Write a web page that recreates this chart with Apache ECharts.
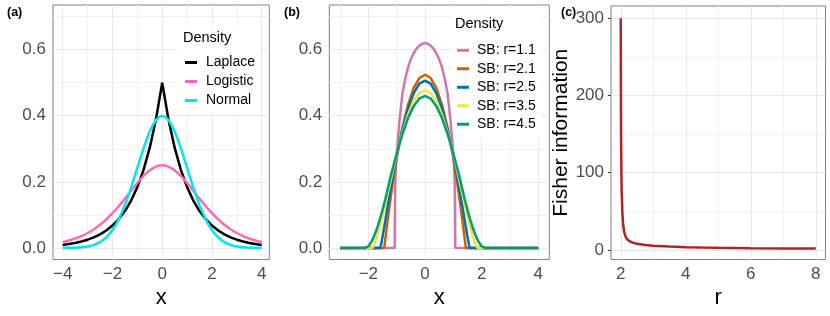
<!DOCTYPE html>
<html><head><meta charset="utf-8">
<script src="https://cdn.jsdelivr.net/npm/echarts@6/dist/echarts.min.js"></script>
<style>html,body{margin:0;padding:0;background:#fff}#c{width:830px;height:316px}</style>
</head><body><div id="c"></div>
<script>
// ---------- Panel (a) data ----------
const A_X = [-4,-3.75,-3.5,-3.25,-3,-2.75,-2.5,-2.25,-2,-1.75,-1.5,-1.25,-1,-0.75,-0.5,-0.25,0,0.25,0.5,0.75,1,1.25,1.5,1.75,2,2.25,2.5,2.75,3,3.25,3.5,3.75,4];
const LAPLACE = [0.0092,0.0118,0.0151,0.0194,0.0249,0.0320,0.0410,0.0527,0.0677,0.0869,0.1116,0.1433,0.1839,0.2362,0.3033,0.3894,0.5,0.3894,0.3033,0.2362,0.1839,0.1433,0.1116,0.0869,0.0677,0.0527,0.0410,0.0320,0.0249,0.0194,0.0151,0.0118,0.0092];
const LOGISTIC = [0.0177,0.0224,0.0285,0.0360,0.0452,0.0565,0.0701,0.0863,0.1050,0.1261,0.1491,0.1731,0.1966,0.2179,0.2350,0.2461,0.25,0.2461,0.2350,0.2179,0.1966,0.1731,0.1491,0.1261,0.1050,0.0863,0.0701,0.0565,0.0452,0.0360,0.0285,0.0224,0.0177];
const NORMAL = [0.0001,0.0004,0.0009,0.0020,0.0044,0.0091,0.0175,0.0317,0.0540,0.0863,0.1295,0.1826,0.2420,0.3011,0.3521,0.3867,0.3989,0.3867,0.3521,0.3011,0.2420,0.1826,0.1295,0.0863,0.0540,0.0317,0.0175,0.0091,0.0044,0.0020,0.0009,0.0004,0.0001];

// ---------- Panel (b) data ----------
const SB11_X = [-3,-1.07,-1.06,-1.05,-1.03,-1.0,-0.95,-0.9,-0.8,-0.7,-0.6,-0.5,-0.4,-0.3,-0.2,-0.1,0,0.1,0.2,0.3,0.4,0.5,0.6,0.7,0.8,0.9,0.95,1.0,1.03,1.05,1.06,1.07,4];
const SB11_Y = [0,0,0.14,0.20,0.245,0.285,0.335,0.385,0.465,0.512,0.546,0.571,0.589,0.603,0.612,0.618,0.62,0.618,0.612,0.603,0.589,0.571,0.546,0.512,0.465,0.385,0.335,0.285,0.245,0.20,0.14,0,0];
const SB21_X = [-3,-1.44,-1.4,-1.3,-1.2,-1.1,-1.0,-0.9,-0.8,-0.6,-0.4,-0.2,0,0.2,0.4,0.6,0.8,0.9,1.0,1.1,1.2,1.3,1.4,1.44,4];
const SB21_Y = [0,0,0.029,0.097,0.160,0.218,0.271,0.319,0.362,0.433,0.484,0.514,0.524,0.514,0.484,0.433,0.362,0.319,0.271,0.218,0.160,0.097,0.029,0,0];
const SB25_X = [-3,-1.58,-1.55,-1.5,-1.4,-1.3,-1.2,-1.1,-1.0,-0.9,-0.8,-0.6,-0.4,-0.2,0,0.2,0.4,0.6,0.8,0.9,1.0,1.1,1.2,1.3,1.4,1.5,1.55,1.58,4];
const SB25_Y = [0,0,0.011,0.034,0.084,0.136,0.186,0.234,0.279,0.320,0.358,0.422,0.468,0.497,0.506,0.497,0.468,0.422,0.358,0.320,0.279,0.234,0.186,0.136,0.084,0.034,0.011,0,0];
const SB35_X = [-3,-1.87,-1.8,-1.7,-1.6,-1.5,-1.4,-1.3,-1.2,-1.1,-1.0,-0.9,-0.8,-0.6,-0.4,-0.2,0,0.2,0.4,0.6,0.8,0.9,1.0,1.1,1.2,1.3,1.4,1.5,1.6,1.7,1.8,1.87,4];
const SB35_Y = [0,0,0.008,0.031,0.062,0.096,0.133,0.171,0.209,0.247,0.283,0.317,0.348,0.403,0.444,0.469,0.477,0.469,0.444,0.403,0.348,0.317,0.283,0.247,0.209,0.171,0.133,0.096,0.062,0.031,0.008,0,0];
const SB45_X = [-3,-2.12,-2.06,-2.0,-1.9,-1.8,-1.7,-1.6,-1.5,-1.4,-1.3,-1.2,-1.1,-1.0,-0.9,-0.8,-0.6,-0.4,-0.2,0,0.2,0.4,0.6,0.8,0.9,1.0,1.1,1.2,1.3,1.4,1.5,1.6,1.7,1.8,1.9,2.0,2.06,2.12,4];
const SB45_Y = [0,0,0.0015,0.005,0.017,0.035,0.058,0.085,0.115,0.148,0.185,0.221,0.254,0.285,0.315,0.344,0.393,0.429,0.452,0.46,0.452,0.429,0.393,0.344,0.315,0.285,0.254,0.221,0.185,0.148,0.115,0.085,0.058,0.035,0.017,0.005,0.0015,0,0];

// ---------- Panel (c) data ----------
const FI_R = [2.0,2.005,2.01,2.02,2.03,2.05,2.07,2.1,2.15,2.2,2.3,2.4,2.5,2.75,3.0,3.5,4.0,4.5,5.0,6.0,7.0,8.0];
const FI_VAL = [300,205,145,98,74,48,35,24,17,13.5,10.5,9.0,7.8,6.2,5.2,4.2,3.5,3.0,2.6,2.2,1.9,1.7];

// ---------- tick labels ----------
const A_XTICKS = [-4,-2,0,2,4];
const A_XMINOR = [-3,-1,1,3];
const B_XTICKS = [-2,0,2,4];
const B_XMINOR = [-3,-1,1,3];
const AB_YTICKS = [0,0.2,0.4,0.6];
const AB_YMINOR = [0.1,0.3,0.5,0.7];
const C_XTICKS = [2,4,6,8];
const C_XMINOR = [3,5,7];
const C_YTICKS = [0,100,200,300];
const C_YMINOR = [50,150,250];

const SANS = '"Liberation Sans", Arial, sans-serif';
const pair = (xs, ys) => xs.map((x, i) => [x, ys[i]]);
const minus = s => String(s).replace('-', '\u2212');

function xAxis(gi, min, max, ticks, name) {
  return {
    type: 'value', gridIndex: gi, min: min, max: max,
    name: name, nameLocation: 'middle', nameGap: 25,
    nameTextStyle: { fontFamily: SANS, fontSize: 22, color: '#000' },
    axisLine: { show: false }, splitLine: { show: false },
    axisTick: { show: true, length: 3, customValues: ticks, lineStyle: { color: '#333', width: 1 } },
    axisLabel: { customValues: ticks, fontFamily: SANS, fontSize: 17, color: '#4d4d4d', margin: 6,
      formatter: v => minus(v) }
  };
}
function yAxis(gi, min, max, ticks, fmt, name) {
  return {
    type: 'value', gridIndex: gi, min: min, max: max,
    name: name || '', nameLocation: 'middle', nameGap: 37,
    nameTextStyle: { fontFamily: SANS, fontSize: 21, color: '#000' },
    axisLine: { show: false }, splitLine: { show: false },
    axisTick: { show: true, length: 3, customValues: ticks, lineStyle: { color: '#333', width: 1 } },
    axisLabel: { customValues: ticks, fontFamily: SANS, fontSize: 17, color: '#4d4d4d', margin: 7,
      formatter: fmt }
  };
}
function gridLines(gi, xMaj, xMin, yMaj, yMin) {
  const maj = { color: '#e8e8e8', width: 1, type: 'solid' };
  const mnr = { color: '#f2f2f2', width: 1, type: 'solid' };
  const d = [];
  xMin.forEach(v => d.push({ xAxis: v, lineStyle: mnr }));
  yMin.forEach(v => d.push({ yAxis: v, lineStyle: mnr }));
  xMaj.forEach(v => d.push({ xAxis: v, lineStyle: maj }));
  yMaj.forEach(v => d.push({ yAxis: v, lineStyle: maj }));
  return { type: 'line', xAxisIndex: gi, yAxisIndex: gi, data: [], z: 1, silent: true,
    markLine: { z: 1, silent: true, symbol: ['none', 'none'], label: { show: false }, animation: false, data: d } };
}
function curve(gi, name, data, color, smooth) {
  return { type: 'line', name: name, xAxisIndex: gi, yAxisIndex: gi, data: data, z: 3,
    showSymbol: false, symbol: 'none', smooth: smooth || false,
    lineStyle: { color: color, width: 2.5 }, itemStyle: { color: color } };
}
const legendCommon = {
  orient: 'vertical', backgroundColor: '#fff', itemWidth: 12, itemHeight: 3, itemGap: 0,
  icon: 'rect', selectedMode: false, z: 6
};
const tagStyle = { fontFamily: SANS, fontSize: 12.5, fontWeight: 'bold', color: '#000' };
const ltStyle = { fontFamily: SANS, fontSize: 14.5, fontWeight: 'normal', color: '#000' };

const option = {
  animation: false,
  title: [
    { text: '(a)', left: 7, top: 6, padding: 0, textStyle: tagStyle },
    { text: '(b)', left: 284, top: 6, padding: 0, textStyle: tagStyle },
    { text: '(c)', left: 561, top: 6, padding: 0, textStyle: tagStyle },
    { text: 'Density', left: 183, top: 30, padding: 0, textStyle: ltStyle, z: 10 },
    { text: 'Density', left: 455, top: 16, padding: 0, textStyle: ltStyle, z: 10 }
  ],
  grid: [
    { left: 53, top: 5, width: 216.3, height: 254.5, show: true, borderColor: '#7f7f7f', borderWidth: 1 },
    { left: 329.3, top: 5, width: 220, height: 254.5, show: true, borderColor: '#7f7f7f', borderWidth: 1 },
    { left: 611, top: 6, width: 214.5, height: 253.5, show: true, borderColor: '#7f7f7f', borderWidth: 1 }
  ],
  xAxis: [
    xAxis(0, -4.39, 4.305, A_XTICKS, 'x'),
    xAxis(1, -3.38, 4.39, B_XTICKS, 'x'),
    xAxis(2, 1.7, 8.3, C_XTICKS, 'r')
  ],
  yAxis: [
    yAxis(0, -0.035, 0.735, AB_YTICKS, v => v.toFixed(1)),
    yAxis(1, -0.035, 0.735, AB_YTICKS, v => v.toFixed(1)),
    yAxis(2, -12.5, 316, C_YTICKS, v => String(v), 'Fisher information')
  ],
  legend: [
    Object.assign({}, legendCommon, { left: 177, top: 26, padding: [27, 6, 3, 8],
      data: ['Laplace', 'Logistic', 'Normal'],
      textStyle: { fontFamily: SANS, fontSize: 14, color: '#000', lineHeight: 19, padding: [0, 0, 0, 4] } }),
    Object.assign({}, legendCommon, { left: 453, top: 8, padding: [33, 5, 4, 4],
      data: ['SB: r=1.1', 'SB: r=2.1', 'SB: r=2.5', 'SB: r=3.5', 'SB: r=4.5'],
      textStyle: { fontFamily: SANS, fontSize: 14, color: '#000', lineHeight: 18.5, padding: [0, 0, 0, 3] } })
  ],
  series: [
    gridLines(0, A_XTICKS, A_XMINOR, AB_YTICKS, AB_YMINOR),
    gridLines(1, B_XTICKS, B_XMINOR, AB_YTICKS, AB_YMINOR),
    gridLines(2, C_XTICKS, C_XMINOR, C_YTICKS, C_YMINOR),
    curve(0, 'Laplace', pair(A_X, LAPLACE), '#000000'),
    curve(0, 'Logistic', pair(A_X, LOGISTIC), '#FF69B4', 0.3),
    curve(0, 'Normal', pair(A_X, NORMAL), '#00E5EE', 0.3),
    curve(1, 'SB: r=1.1', pair(SB11_X, SB11_Y), '#CC79A7'),
    curve(1, 'SB: r=2.1', pair(SB21_X, SB21_Y), '#D55E00'),
    curve(1, 'SB: r=2.5', pair(SB25_X, SB25_Y), '#0072B2'),
    curve(1, 'SB: r=3.5', pair(SB35_X, SB35_Y), '#F0E442'),
    curve(1, 'SB: r=4.5', pair(SB45_X, SB45_Y), '#009E73'),
    curve(2, 'Fisher', pair(FI_R, FI_VAL), '#B22222')
  ]
};
const chart = echarts.init(document.getElementById('c'), null, { renderer: 'canvas' });
chart.setOption(option);
</script></body></html>
